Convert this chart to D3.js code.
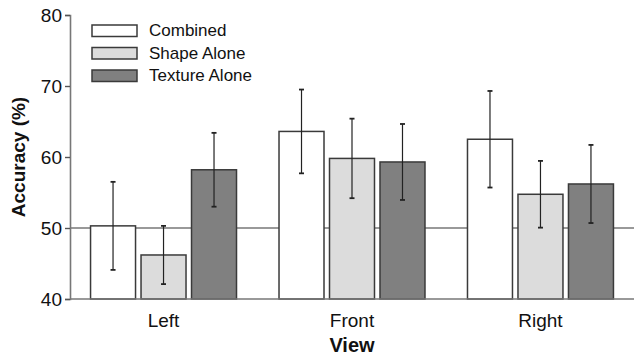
<!DOCTYPE html>
<html>
<head>
<meta charset="utf-8">
<script src="https://cdn.jsdelivr.net/npm/d3@7"></script>
<style>
  body { margin: 0; background: #fff; }
  text { font-family: "Liberation Sans", Arial, Helvetica, sans-serif; fill: #111; }
</style>
</head>
<body>
<script>
var views = ["Left", "Front", "Right"];
var conditions = ["Combined", "Shape Alone", "Texture Alone"];
var colors = ["#ffffff", "#dcdcdc", "#808080"];
// mean accuracy per view, one array per condition
var combined = [50.3, 63.6, 62.5];
var shapeAlone = [46.2, 59.8, 54.75];
var textureAlone = [58.2, 59.3, 56.2];
// error bar half-lengths
var combinedErr = [6.2, 5.9, 6.8];
var shapeErr = [4.1, 5.6, 4.7];
var textureErr = [5.2, 5.35, 5.5];
var yTicks = [40, 50, 60, 70, 80];
var chance = 50;

var means = [combined, shapeAlone, textureAlone];
var errs = [combinedErr, shapeErr, textureErr];

var rows = [];
views.forEach(function(v, i) {
  conditions.forEach(function(c, j) {
    rows.push({view: v, cond: c, value: means[j][i], err: errs[j][i], color: colors[j]});
  });
});

var width = 634, height = 360;
var margin = {top: 15, right: 0, bottom: 61, left: 70};

var svg = d3.select("body").append("svg")
    .attr("width", width)
    .attr("height", height);

var x0 = d3.scaleBand()
    .domain(views)
    .range([margin.left, width - margin.right])
    .paddingInner(0.2255)
    .paddingOuter(0.109);

var x1 = d3.scaleBand()
    .domain(conditions)
    .range([0, x0.bandwidth()])
    .paddingInner(0.109);

var y = d3.scaleLinear()
    .domain([40, 80])
    .range([height - margin.bottom, margin.top]);

// chance line
svg.append("line")
    .attr("x1", margin.left).attr("x2", width)
    .attr("y1", y(chance)).attr("y2", y(chance))
    .attr("stroke", "#777").attr("stroke-width", 1.6);

// bars
var g = svg.append("g");
g.selectAll("rect.bar")
    .data(rows)
    .enter().append("rect")
    .attr("class", "bar")
    .attr("x", function(d) { return x0(d.view) + x1(d.cond); })
    .attr("width", x1.bandwidth())
    .attr("y", function(d) { return y(d.value); })
    .attr("height", function(d) { return y(40) - y(d.value); })
    .attr("fill", function(d) { return d.color; })
    .attr("stroke", "#3a3a3a")
    .attr("stroke-width", 1.5);

// error bars
var eb = g.selectAll("g.err")
    .data(rows)
    .enter().append("g")
    .attr("class", "err")
    .attr("transform", function(d) { return "translate(" + (x0(d.view) + x1(d.cond) + x1.bandwidth() / 2) + ",0)"; })
    .attr("stroke", "#222")
    .attr("stroke-width", 1.2);
eb.append("line")
    .attr("y1", function(d) { return y(d.value + d.err); })
    .attr("y2", function(d) { return y(d.value - d.err); });
eb.append("line")
    .attr("x1", -2.5).attr("x2", 2.5)
    .attr("y1", function(d) { return y(d.value + d.err); })
    .attr("y2", function(d) { return y(d.value + d.err); })
    .attr("stroke-width", 1.8);
eb.append("line")
    .attr("x1", -2.5).attr("x2", 2.5)
    .attr("y1", function(d) { return y(d.value - d.err); })
    .attr("y2", function(d) { return y(d.value - d.err); })
    .attr("stroke-width", 1.8);

// axes
svg.append("line")
    .attr("x1", margin.left).attr("x2", width)
    .attr("y1", y(40)).attr("y2", y(40))
    .attr("stroke", "#777").attr("stroke-width", 1.6);

var yAxis = svg.append("g")
    .attr("transform", "translate(" + margin.left + ",0)")
    .call(d3.axisLeft(y).tickValues(yTicks).tickSize(5).tickPadding(3));
yAxis.select(".domain").attr("stroke", "#777").attr("stroke-width", 1.6);
yAxis.selectAll(".tick line").attr("stroke", "#555").attr("stroke-width", 1.4);
yAxis.selectAll(".tick text")
    .style("font-family", '"Liberation Sans", Arial, sans-serif')
    .style("font-size", "19px").attr("fill", "#111").attr("dy", "0.36em");

svg.selectAll("text.view")
    .data(views)
    .enter().append("text")
    .attr("class", "view")
    .attr("x", function(d) { return x0(d) + x0.bandwidth() / 2; })
    .attr("y", 327)
    .attr("text-anchor", "middle")
    .style("font-size", "19px")
    .text(function(d) { return d; });

svg.append("text")
    .attr("x", x0("Front") + x0.bandwidth() / 2)
    .attr("y", 352)
    .attr("text-anchor", "middle")
    .style("font-size", "20px")
    .style("font-weight", "bold")
    .text("View");

svg.append("text")
    .attr("transform", "translate(25," + y(60) + ")rotate(-90)")
    .attr("text-anchor", "middle")
    .style("font-size", "19px")
    .style("font-weight", "bold")
    .text("Accuracy (%)");

// legend
var legend = svg.selectAll("g.legend")
    .data(conditions)
    .enter().append("g")
    .attr("class", "legend")
    .attr("transform", function(d, i) { return "translate(92," + (25 + i * 22.5) + ")"; });
legend.append("rect")
    .attr("width", 45).attr("height", 11.5)
    .attr("fill", function(d, i) { return colors[i]; })
    .attr("stroke", "#3a3a3a").attr("stroke-width", 1.5);
legend.append("text")
    .attr("x", 57).attr("y", 11)
    .style("font-size", "17px")
    .text(function(d) { return d; });
</script>
</body>
</html>
